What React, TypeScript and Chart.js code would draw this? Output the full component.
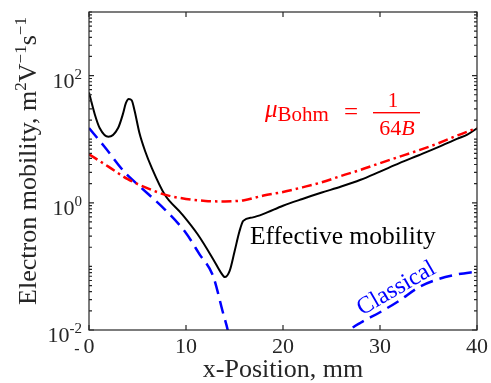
import React, { useEffect, useRef } from 'react';
import { Chart, registerables } from 'chart.js';

Chart.register(...registerables);

// ---- data (x in mm, mobility in m^2 V^-1 s^-1) ----
const effectiveX = [0, 0.6, 1.1, 2.0, 3.0, 3.5, 3.8, 4.1, 4.4, 4.7, 5.2, 5.8, 6.45, 7.8, 9.6, 11.2, 12.8, 13.6, 14.0, 14.5, 15.0, 15.5, 15.9, 16.9, 18, 20, 22, 24, 26, 28, 30, 32, 34, 36, 38, 39, 40];
const effectiveMobility = [54, 24.5, 15, 10.9, 15, 25, 37, 43, 41, 28, 12.5, 6.4, 3.6, 1.35, 0.66, 0.32, 0.13, 0.08, 0.068, 0.085, 0.17, 0.35, 0.52, 0.59, 0.67, 0.9, 1.15, 1.45, 1.8, 2.3, 3.1, 4.2, 5.6, 7.5, 10.2, 11.8, 14.8];

const bohmX = [0, 2, 4, 6, 8, 10, 12, 14, 16, 18, 20, 22, 24, 26, 28, 30, 32, 34, 36, 38, 40];
const bohmMobility = [5.8, 3.7, 2.35, 1.7, 1.32, 1.15, 1.07, 1.05, 1.1, 1.3, 1.48, 1.75, 2.1, 2.65, 3.3, 4.2, 5.3, 6.7, 8.6, 11.5, 15];

const classicalX1 = [0, 1.6, 3.7, 5.0, 7.8, 9.9, 11.4, 12.8, 13.8, 14.3, 14.6];
const classicalMobility1 = [15, 7.6, 3.0, 1.95, 0.79, 0.35, 0.155, 0.07, 0.019, 0.01, 0.006];
const classicalX2 = [26, 27, 28, 30, 32, 34, 36, 38, 40];
const classicalMobility2 = [0.006, 0.0102, 0.013, 0.019, 0.029, 0.047, 0.063, 0.075, 0.083];

const xTicks = [0, 10, 20, 30, 40];
const yTickExponents = [-2, 0, 2];

const zip = (xs: number[], ys: number[]) => xs.map((x, i) => ({ x, y: ys[i] }));

const SERIF = '"Liberation Serif", "DejaVu Serif", serif';
const AXIS_COLOR = '#262626';

type Part = { t: string; size: number; dy?: number; italic?: boolean };

function richWidth(ctx: CanvasRenderingContext2D, parts: Part[]) {
  let w = 0;
  for (const p of parts) {
    ctx.font = `${p.italic ? 'italic ' : ''}${p.size}px ${SERIF}`;
    w += ctx.measureText(p.t).width;
  }
  return w;
}

function drawRich(ctx: CanvasRenderingContext2D, parts: Part[], x: number, y: number, align: 'left' | 'center' | 'right') {
  const w = richWidth(ctx, parts);
  let cx = align === 'left' ? x : align === 'center' ? x - w / 2 : x - w;
  ctx.textAlign = 'left';
  ctx.textBaseline = 'alphabetic';
  for (const p of parts) {
    ctx.font = `${p.italic ? 'italic ' : ''}${p.size}px ${SERIF}`;
    ctx.fillText(p.t, cx, y + (p.dy || 0));
    cx += ctx.measureText(p.t).width;
  }
}

const decorPlugin = {
  id: 'decor',
  afterDraw(chart: any) {
    const ctx: CanvasRenderingContext2D = chart.ctx;
    const { left, right, top, bottom } = chart.chartArea;
    const xs = chart.scales.x;
    const ys = chart.scales.y;
    ctx.save();

    // frame
    ctx.strokeStyle = AXIS_COLOR;
    ctx.lineWidth = 1.2;
    ctx.strokeRect(left, top, right - left, bottom - top);

    // x ticks + labels
    ctx.fillStyle = AXIS_COLOR;
    for (const v of xTicks) {
      const px = xs.getPixelForValue(v);
      ctx.beginPath();
      ctx.moveTo(px, bottom);
      ctx.lineTo(px, bottom - 5);
      ctx.moveTo(px, top);
      ctx.lineTo(px, top + 5);
      ctx.stroke();
      ctx.font = `22px ${SERIF}`;
      ctx.textAlign = 'center';
      ctx.textBaseline = 'alphabetic';
      ctx.fillText(String(v), px, 353);
    }
    // small dash artifact left of "0"
    ctx.font = `16px ${SERIF}`;
    ctx.textAlign = 'center';
    ctx.fillText('-', xs.getPixelForValue(0) - 12, 354);

    // y ticks
    for (let e = -2; e <= 3; e++) {
      for (let m = 1; m <= 9; m++) {
        const v = m * Math.pow(10, e);
        if (v > 1000 * 1.0001) continue;
        const py = ys.getPixelForValue(v);
        const major = m === 1 && yTickExponents.includes(e);
        const len = major ? 5 : 3;
        ctx.beginPath();
        ctx.moveTo(left, py);
        ctx.lineTo(left + len, py);
        ctx.moveTo(right, py);
        ctx.lineTo(right - len, py);
        ctx.stroke();
      }
    }
    // y labels
    for (const e of yTickExponents) {
      const py = ys.getPixelForValue(Math.pow(10, e));
      const expText = e < 0 ? '-' + String(-e) : String(e);
      drawRich(ctx, [
        { t: '10', size: 22 },
        { t: expText, size: 15, dy: -9 },
      ], 82, py + 12, 'right');
    }

    // axis titles
    ctx.fillStyle = AXIS_COLOR;
    ctx.font = `26px ${SERIF}`;
    ctx.textAlign = 'center';
    ctx.textBaseline = 'alphabetic';
    ctx.fillText('x-Position, mm', (left + right) / 2, 377);

    ctx.save();
    ctx.translate(36, 161);
    ctx.rotate(-Math.PI / 2);
    drawRich(ctx, [
      { t: 'Electron mobility, m', size: 26 },
      { t: '2', size: 17, dy: -10 },
      { t: 'V', size: 26 },
      { t: '\u22121', size: 17, dy: -10 },
      { t: 's', size: 26 },
      { t: '\u22121', size: 17, dy: -10 },
    ], 0, 0, 'center');
    ctx.restore();

    // annotations
    ctx.fillStyle = '#ff0000';
    drawRich(ctx, [
      { t: '\u03bc', size: 25, italic: true },
      { t: 'Bohm', size: 21, dy: 4 },
    ], 265, 117, 'left');
    ctx.font = `25px ${SERIF}`;
    ctx.textAlign = 'center';
    ctx.fillText('=', 351, 120);
    ctx.font = `21px ${SERIF}`;
    ctx.fillText('1', 393, 107);
    ctx.fillRect(373, 112, 47, 1.4);
    drawRich(ctx, [
      { t: '64', size: 22 },
      { t: 'B', size: 22, italic: true },
    ], 397, 135, 'center');

    ctx.fillStyle = '#000000';
    ctx.font = `25.5px ${SERIF}`;
    ctx.textAlign = 'left';
    ctx.fillText('Effective mobility', 250, 244);

    ctx.save();
    ctx.fillStyle = '#0000ff';
    ctx.translate(396, 288);
    ctx.rotate(-30 * Math.PI / 180);
    ctx.font = `24px ${SERIF}`;
    ctx.textAlign = 'center';
    ctx.textBaseline = 'alphabetic';
    ctx.fillText('Classical', 0, 7);
    ctx.restore();

    ctx.restore();
  },
};

export default function App() {
  const ref = useRef<HTMLCanvasElement | null>(null);
  useEffect(() => {
    if (!ref.current) return;
    const chart = new Chart(ref.current, {
      type: 'line',
      data: {
        datasets: [
          {
            label: 'Bohm',
            data: zip(bohmX, bohmMobility),
            borderColor: '#ff0000',
            borderWidth: 2.5,
            borderDash: [10, 4, 2.5, 4],
            pointRadius: 0,
            cubicInterpolationMode: 'monotone',
            fill: false,
          },
          {
            label: 'Classical',
            data: zip(classicalX1, classicalMobility1),
            borderColor: '#0000ff',
            borderWidth: 2.5,
            borderDash: [13, 7],
            pointRadius: 0,
            cubicInterpolationMode: 'monotone',
            fill: false,
          },
          {
            label: 'Classical 2',
            data: zip(classicalX2, classicalMobility2),
            borderColor: '#0000ff',
            borderWidth: 2.5,
            borderDash: [13, 7],
            pointRadius: 0,
            cubicInterpolationMode: 'monotone',
            fill: false,
          },
          {
            label: 'Effective mobility',
            data: zip(effectiveX, effectiveMobility),
            borderColor: '#000000',
            borderWidth: 2,
            pointRadius: 0,
            cubicInterpolationMode: 'monotone',
            fill: false,
          },
        ],
      },
      options: {
        animation: false,
        responsive: true,
        maintainAspectRatio: false,
        layout: { padding: { left: 89, right: 14, top: 12, bottom: 53 } },
        plugins: { legend: { display: false }, tooltip: { enabled: false } },
        scales: {
          x: { type: 'linear', min: 0, max: 40, display: false },
          y: { type: 'logarithmic', min: 0.01, max: 1000, display: false },
        },
      },
      plugins: [decorPlugin],
    } as any);
    return () => chart.destroy();
  }, []);
  return (
    <div style={{ position: 'fixed', left: 0, top: 0, width: 491, height: 383, background: '#fff' }}>
      <canvas ref={ref} />
    </div>
  );
}
